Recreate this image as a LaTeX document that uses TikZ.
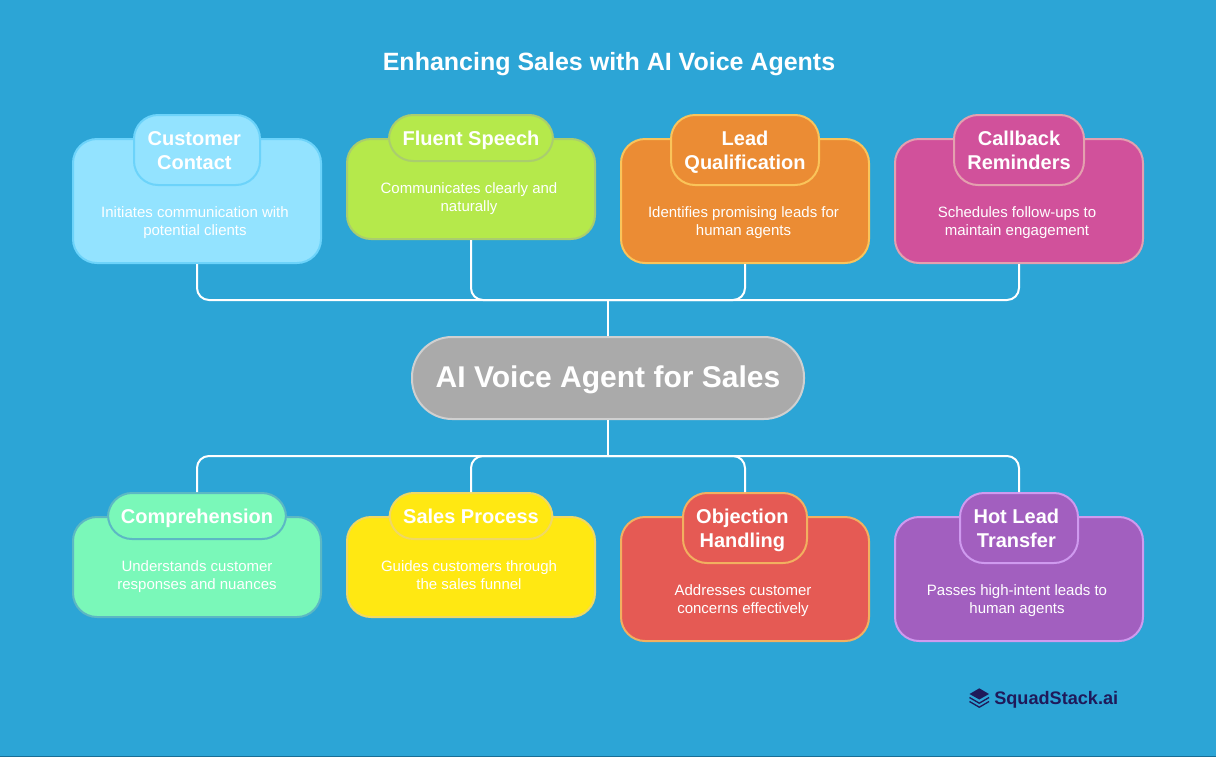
\documentclass[tikz,border=0pt]{standalone}
\usepackage{fontspec}
\setmainfont{Liberation Sans}
\usepackage{tikz}
\usetikzlibrary{positioning}
\definecolor{skybg}{RGB}{44,165,214}
\definecolor{contactfill}{RGB}{147,227,255}
\definecolor{contactline}{RGB}{108,211,250}
\definecolor{speechfill}{RGB}{181,233,75}
\definecolor{speechline}{RGB}{170,205,110}
\definecolor{leadfill}{RGB}{235,140,52}
\definecolor{leadline}{RGB}{250,196,90}
\definecolor{callfill}{RGB}{209,81,155}
\definecolor{callline}{RGB}{228,160,175}
\definecolor{agentfill}{RGB}{170,170,170}
\definecolor{agentline}{RGB}{208,208,208}
\definecolor{compfill}{RGB}{122,248,185}
\definecolor{compline}{RGB}{92,184,196}
\definecolor{salesfill}{RGB}{255,232,18}
\definecolor{salesline}{RGB}{240,216,100}
\definecolor{objfill}{RGB}{229,90,84}
\definecolor{objline}{RGB}{242,176,96}
\definecolor{hotfill}{RGB}{162,95,191}
\definecolor{hotline}{RGB}{207,154,239}
\definecolor{logoink}{RGB}{31,26,90}
\definecolor{edgeink}{RGB}{24,110,150}
\newcommand{\tailgap}{\hspace*{4pt}}
\newcommand{\headlift}{\strut\rule{0pt}{16.8pt}}

\begin{document}
\begin{tikzpicture}[
  x=0.75pt, y=-0.75pt,
  card/.style={rectangle, rounded corners=18pt, line width=1.5pt,
               minimum width=186pt},
  chip/.style={rectangle, rounded corners=18pt, line width=1.5pt,
               font=\fontsize{15}{18}\selectfont\bfseries, text=white,
               align=center, inner sep=0pt},
  desc/.style={font=\fontsize{11.25}{13.5}\selectfont, text=white, align=center, inner sep=0pt},
  link/.style={draw=white, line width=1.5pt, rounded corners=9pt}
]
  %% -- Page
  \fill[skybg] (0,0) rectangle (1216,757);
  \fill[edgeink] (0,756) rectangle (1216,757);
  \useasboundingbox (0,0) rectangle (1216,757);

  \node[font=\fontsize{18.75}{22}\selectfont\bfseries, text=white] (title) at (609,64.5) {Enhancing Sales with AI Voice Agents};

  %% -- Centre
  \node[rectangle, rounded corners=30pt, line width=1.5pt, draw=agentline, fill=agentfill,
        minimum width=294pt, minimum height=61.5pt, inner sep=0pt,
        text height=21pt, text depth=7.5pt,
        font=\fontsize{22.5}{26}\selectfont\bfseries, text=white] (agent) at (608,378) {AI Voice Agent for Sales};

  %% Top cards
  \node[card, minimum height=93pt, draw=contactline, fill=contactfill] (contact) at (197,201) {};
  \node[card, minimum height=75pt, draw=speechline, fill=speechfill]   (speech)  at (471,189) {};
  \node[card, minimum height=93pt, draw=leadline, fill=leadfill]       (lead)    at (745,201) {};
  \node[card, minimum height=93pt, draw=callline, fill=callfill]       (call)    at (1019,201) {};

  \node[chip, minimum width=94.5pt, minimum height=52.5pt, draw=contactline, fill=contactfill] (contacthead) at (197,150) {\headlift Customer\tailgap\\\strut Contact\tailgap};
  \node[chip, minimum width=123pt, minimum height=34.5pt, draw=speechline, fill=speechfill]   (speechhead)  at (471,138) {\headlift Fluent Speech};
  \node[chip, minimum width=111pt, minimum height=52.5pt, draw=leadline, fill=leadfill]       (leadhead)    at (745,150) {\headlift Lead\\\strut Qualification};
  \node[chip, minimum width=97.5pt, minimum height=52.5pt, draw=callline, fill=callfill]      (callhead)    at (1019,150) {\headlift Callback\\\strut Reminders};

  \node[desc] (contacttext) at (195,223) {\strut Initiates communication with\\\strut potential clients};
  \node[desc] (speechtext)  at (469,199) {\strut Communicates clearly and\\\strut naturally};
  \node[desc] (leadtext)    at (743.5,223) {\strut Identifies promising leads for\\\strut human agents};
  \node[desc] (calltext)    at (1017,223) {\strut Schedules follow-ups to\\\strut maintain engagement};

  %% Bottom cards
  \node[card, minimum height=75pt, draw=compline, fill=compfill]  (comp)  at (197,567) {};
  \node[card, minimum height=75pt, draw=salesline, fill=salesfill] (sales) at (471,567) {};
  \node[card, minimum height=93pt, draw=objline, fill=objfill]    (obj)   at (745,579) {};
  \node[card, minimum height=93pt, draw=hotline, fill=hotfill]    (hot)   at (1019,579) {};

  \node[chip, minimum width=133.5pt, minimum height=34.5pt, draw=compline, fill=compfill]  (comphead)  at (197,516) {\headlift Comprehension};
  \node[chip, minimum width=122pt, minimum height=34.5pt, draw=salesline, fill=salesfill]  (saleshead) at (471,516) {\headlift Sales Process};
  \node[chip, minimum width=93pt, minimum height=52.5pt, draw=objline, fill=objfill]       (objhead)   at (745,528) {\headlift Objection\tailgap\\\strut Handling\tailgap};
  \node[chip, minimum width=88.5pt, minimum height=52.5pt, draw=hotline, fill=hotfill]     (hothead)   at (1019,528) {\headlift Hot Lead\tailgap\\\strut Transfer\tailgap};

  \node[desc] (comptext)  at (197,577) {\strut Understands customer\\\strut responses and nuances};
  \node[desc] (salestext) at (469,577) {\strut Guides customers through\\\strut the sales funnel};
  \node[desc] (objtext)   at (743,601) {\strut Addresses customer\\\strut concerns effectively};
  \node[desc] (hottext)   at (1017,601) {\strut Passes high-intent leads to\\\strut human agents};

  %% Connections
  \coordinate (tophub) at (608,300);
  \coordinate (bothub) at (608,456);
  \draw[link] (contact.south) |- (tophub);
  \draw[link] (speech.south)  |- (tophub);
  \draw[link] (lead.south)    |- (tophub);
  \draw[link] (call.south)    |- (tophub);
  \draw[link] (agent.north) -- (tophub);
  \draw[link] (agent.south) -- (bothub);
  \draw[link] (comphead.north)  |- (bothub);
  \draw[link] (saleshead.north) |- (bothub);
  \draw[link] (objhead.north)   |- (bothub);
  \draw[link] (hothead.north)   |- (bothub);

  %% Logo
  \fill[logoink] (969.5,694) -- (979.3,688.3) -- (989,694) -- (979.3,699.5) -- cycle;
  \draw[logoink, line width=1pt] (969.5,697.5) -- (979.3,703.2) -- (989,697.5);
  \draw[logoink, line width=1pt] (969.5,701.5) -- (979.3,707.2) -- (989,701.5);
  \node[font=\fontsize{13.6}{16}\selectfont\bfseries, text=logoink, inner sep=0pt, anchor=west] (logo) at (994,700) {SquadStack.ai};
\end{tikzpicture}
\end{document}
